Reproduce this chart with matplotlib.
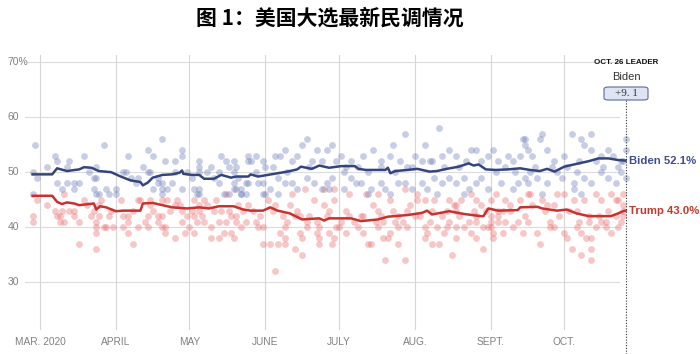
import matplotlib
matplotlib.use("Agg")
import matplotlib.pyplot as plt
from matplotlib.patches import FancyBboxPatch

plt.rcParams['font.family'] = ['Liberation Sans', 'DejaVu Sans']

# x values are days since 1 March 2020
month_days = [0, 31, 61, 92, 122, 153, 184, 214]
month_labels = ['MAR. 2020', 'APRIL', 'MAY', 'JUNE', 'JULY', 'AUG.', 'SEPT.', 'OCT.']
y_ticks = [30, 40, 50, 60, 70]
y_labels = ['30', '40', '50', '60', '70%']
leader_day = 239

# polling averages (day, pct)
biden_avg = [(-3, 49.6), (5, 49.6), (7, 50.7), (11, 50.2), (16, 50.5), (18, 50.9), (21, 50.8),
             (24, 50.2), (29, 50.0), (33, 49.2), (37, 48.5), (41, 48.2), (42, 47.6), (44, 48.1),
             (46, 49.0), (50, 49.5), (54, 49.6), (57, 49.9), (58, 50.3), (58.5, 49.7), (62, 49.5),
             (65, 49.5), (67, 48.8), (71, 48.8), (74, 49.5), (78, 49.0), (80, 49.2), (85, 49.2),
             (86, 49.6), (89, 49.2), (93, 49.5), (97, 49.8), (101, 50.1), (105, 50.5), (106.5, 51.0),
             (111, 50.6), (114, 51.2), (118, 50.8), (123, 51.1), (128.5, 51.1), (130, 50.6),
             (133, 50.4), (141, 50.4), (142, 50.8), (143, 49.8), (145, 50.2), (150, 50.4),
             (154, 50.6), (159, 50.1), (162, 50.2), (166, 50.6), (171, 51.0), (175, 51.6),
             (177, 51.2), (179, 51.4), (182, 50.5), (186, 50.4), (191, 50.5), (196, 50.7),
             (200, 50.4), (204, 50.2), (207, 50.6), (210, 50.1), (214, 51.0), (218, 51.4),
             (224, 52.0), (228, 52.5), (232, 52.5), (236, 52.2), (239, 52.1)]
trump_avg = [(-3, 45.7), (5, 45.7), (7, 44.6), (9, 44.2), (11, 44.5), (14, 44.3), (16, 44.0),
             (20, 44.2), (22, 44.3), (23, 43.2), (24.5, 43.8), (27, 43.6), (31, 42.9), (34, 43.0),
             (41, 43.0), (42, 44.3), (46, 44.4), (48, 44.2), (52, 43.8), (54, 43.6), (60, 43.4),
             (65, 43.6), (69, 43.4), (73, 43.8), (79, 43.8), (83, 43.2), (86, 43.0), (91, 43.0),
             (94, 43.6), (97, 43.0), (102, 42.5), (107, 41.4), (114, 41.6), (116, 41.2),
             (118, 41.6), (127, 41.6), (131, 41.1), (138, 41.4), (142, 41.9), (150, 42.2),
             (156, 42.6), (158, 43.0), (160, 42.3), (167, 42.9), (173, 42.4), (180, 42.0),
             (181, 42.0), (183, 43.4), (187, 43.0), (195, 43.1), (196, 43.6), (203, 43.7),
             (205, 43.4), (211, 43.0), (215, 43.2), (219, 42.5), (224, 42.0), (233, 42.0),
             (236, 42.5), (238, 42.9), (239, 43.0)]

# individual polls (day, pct)
biden_polls = [(-2, 55), (-3, 50), (-1, 49), (-3, 46), (6, 53), (7, 52), (12, 52), (18, 53), (26, 55),
               (23, 51), (11, 51), (22, 49), (23, 49), (7, 48), (11, 48), (14, 48), (16, 48), (9, 47),
               (14, 47), (22, 47), (23, 46), (24, 46), (27, 47), (31, 47), (28, 46), (31, 46), (34, 50),
               (35, 50), (36, 53), (37, 49), (40, 49), (39, 48), (44, 54), (46, 53), (50, 56), (51, 52),
               (55, 52), (58, 54), (58, 53), (44, 50), (45, 50), (48, 49), (48, 48), (50, 48), (46, 47),
               (50, 47), (52, 47), (50, 46), (54, 48), (58, 47), (55, 50), (62, 49), (65, 51), (65, 52),
               (65, 50), (63, 47), (65, 47), (65, 46), (64, 46), (70, 51), (74, 53), (76, 52), (79, 52),
               (80, 51), (73, 50), (71, 49), (73, 48), (79, 48), (80, 47), (82, 47), (75, 46), (77, 46),
               (82, 46), (84, 46), (85, 53), (85, 52), (84, 48),
               (88, 53), (86, 52), (91, 52), (92, 51), (96, 53), (98, 53), (100, 54), (103, 52),
               (105, 53), (107, 55), (109, 56), (111, 52), (113, 54), (117, 54), (115, 52), (77, 51),
               (79, 50), (81, 49), (85, 48), (89, 48), (91, 48), (94, 47), (92, 46), (91, 46), (97, 49),
               (100, 48), (103, 48), (105, 47), (109, 49), (112, 48), (115, 47), (117, 48), (79, 47),
               (82, 46), (97, 46),
               (119, 55), (123, 53), (121, 52), (127, 52), (130, 51), (132, 53), (136, 54), (139, 51),
               (139, 52), (144, 55), (143, 53), (147, 52), (149, 57), (152, 51), (153, 53), (156, 52),
               (157, 55), (159, 52), (119, 49), (124, 50), (127, 49), (129, 48), (131, 48), (135, 47),
               (139, 48), (141, 47), (143, 46), (146, 48), (149, 48), (152, 47), (156, 48), (158, 47),
               (124, 47), (118, 47), (134, 46),
               (163, 58), (167, 54), (164, 53), (170, 53), (174, 52), (176, 54), (178, 54), (183, 53),
               (185, 54), (187, 52), (191, 53), (193, 52), (196, 53), (198, 56), (199, 54), (160, 52),
               (161, 49), (164, 48), (167, 49), (170, 48), (173, 49), (175, 47), (178, 48), (180, 49),
               (183, 47), (188, 48), (193, 47), (195, 48), (198, 49), (199, 48), (162, 46), (173, 46),
               (205, 57), (204, 56), (207, 54), (201, 53), (210, 52), (214, 53), (217, 57), (221, 56),
               (222, 55), (225, 57), (225, 54), (229, 53), (232, 54), (237, 52), (239, 54), (239, 56),
               (200, 50), (203, 49), (207, 48), (211, 50), (213, 49), (218, 48), (219, 50), (218, 47),
               (222, 49), (225, 48), (229, 50), (232, 49), (235, 48), (237, 50), (239, 49), (205, 46),
               (221, 46), (197, 56), (198, 55),
               (3, 51), (20, 50), (42, 51), (60, 50), (68, 50), (88, 50), (95, 51), (101, 50), (110, 51),
               (125, 51), (134, 50), (145, 50), (150, 51), (165, 51), (171, 51), (180, 52), (186, 50),
               (190, 51), (194, 50), (202, 51), (209, 51), (215, 51), (220, 52), (227, 52), (230, 51),
               (234, 53), (236, 51), (238, 52)]
trump_polls = [(-3, 42), (-3, 41), (-1, 45), (6, 43), (7, 42), (8, 41), (8, 42), (9, 43), (10, 41),
               (10, 46), (12, 43), (14, 43), (14, 42), (16, 41), (18, 45), (16, 37), (22, 43), (21, 42),
               (24, 42), (23, 41), (23, 40), (23, 39), (23, 36), (24, 44), (25, 45), (26, 40), (27, 40),
               (28, 42), (30, 40), (33, 45), (34, 42), (36, 42), (38, 43), (36, 41), (34, 40), (36, 39),
               (38, 37), (41, 45), (40, 40), (44, 42), (46, 43), (44, 40), (43, 41), (48, 42), (50, 42),
               (50, 40), (51, 40), (51, 39), (48, 41), (52, 45), (55, 44), (58, 43), (58, 41), (55, 38),
               (59, 39), (61, 40), (63, 39), (60, 42), (63, 42), (65, 43), (65, 44), (66, 42), (67, 41),
               (64, 41), (70, 40), (70, 38), (73, 38), (71, 43), (73, 41), (74, 43), (76, 41), (75, 39),
               (78, 39), (79, 38), (78, 42), (80, 42), (80, 41), (82, 40), (84, 41), (83, 43), (85, 44),
               (87, 43), (88, 41), (89, 40), (91, 40), (91, 37), (94, 37), (97, 37), (100, 37), (100, 38),
               (98, 39), (100, 40), (99, 42), (101, 41), (96, 32), (96, 44), (102, 44), (105, 43),
               (106, 42), (104, 36), (107, 35), (107, 38), (106, 39), (109, 40), (109, 41), (113, 41),
               (114, 40), (113, 39), (114, 38), (114, 37), (119, 37), (120, 38), (118, 39), (121, 40),
               (122, 40), (116, 44), (120, 45), (118, 43), (125, 43), (126, 42), (125, 39), (130, 40),
               (132, 42), (134, 37), (135, 37), (132, 39), (136, 44), (138, 43), (139, 42), (138, 40),
               (140, 38), (142, 38), (141, 34), (140, 41), (143, 39), (144, 43), (146, 37), (146, 40),
               (146, 42), (149, 34), (148, 41), (150, 40), (151, 44), (154, 45), (155, 42), (157, 40),
               (157, 38), (158, 39), (159, 41), (160, 37), (162, 40), (164, 42), (163, 37), (165, 39),
               (166, 40), (167, 41), (168, 35), (169, 44), (170, 43), (173, 40), (176, 39), (175, 41),
               (178, 38), (178, 42), (181, 40), (181, 36), (184, 41), (184, 40), (185, 39), (187, 42),
               (187, 43), (170, 40), (170, 38), (178, 41), (183, 40), (184, 42), (185, 38), (187, 41),
               (189, 39), (190, 41), (193, 40), (195, 41), (197, 39), (198, 42), (199, 41), (203, 39),
               (204, 37), (208, 40), (208, 41), (210, 40), (212, 42), (214, 39), (215, 38), (217, 36),
               (219, 40), (220, 41), (221, 39), (221, 35), (223, 38), (225, 38), (225, 36), (225, 34),
               (224, 41), (227, 40), (229, 41), (231, 41), (231, 40), (233, 39), (235, 42), (236, 40),
               (238, 43), (238, 42), (238, 44), (236, 45), (238, 46),
               (161, 45), (167, 45), (170, 44), (172, 45), (176, 46), (178, 45), (180, 44), (184, 45),
               (186, 46), (190, 45), (192, 44), (196, 45), (199, 46), (200, 46), (205, 45), (207, 44),
               (211, 46), (214, 46), (218, 45), (222, 45), (227, 46), (229, 45), (233, 46), (235, 45),
               (120, 47), (126, 46), (133, 46), (138, 46), (143, 45), (149, 47), (154, 46), (157, 45),
               (93, 45), (103, 46), (108, 47), (112, 45), (116, 47), (40, 45), (45, 45), (50, 45),
               (56, 45), (63, 45), (67, 45), (72, 45), (76, 46),
               (3, 44), (19, 44), (29, 43), (45, 44), (53, 43), (57, 44), (62, 43), (68, 44), (77, 43),
               (81, 44), (90, 42), (95, 43), (104, 42), (110, 42), (117, 42), (123, 41), (128, 41),
               (131, 42), (137, 41), (145, 41), (150, 43), (153, 42), (160, 43), (166, 43), (171, 42),
               (177, 43), (182, 43), (189, 43), (192, 43), (201, 44), (206, 43), (210, 44), (216, 43),
               (219, 43), (224, 42), (228, 42), (232, 43), (237, 41)]

biden_final = 52.1
trump_final = 43.0
margin_text = '+9. 1'

BLUE = '#34457e'
RED = '#c8312d'

fig = plt.figure(figsize=(7, 3.54), dpi=100)
ax = fig.add_axes([25 / 700, 24 / 354, 603 / 700, 275 / 354])
ax.set_xlim(-6.1, 240)
ax.set_ylim(21.3, 71.3)
ax.axis('off')

# grid
for v in y_ticks:
    ax.plot([-6.1, 236.5], [v, v], color='#dcdcdc', lw=0.8, zorder=0)
for d in month_days:
    ax.axvline(d, color='#d6d6d6', lw=0.8, zorder=0)

for v, lab in zip(y_ticks, y_labels):
    ax.text(-13.2, v, lab, ha='left', va='center', fontsize=7.5, color='#808080')
for d, lab in zip(month_days, month_labels):
    ax.text(d, 20.0, lab, ha='center', va='top', fontsize=7.3, color='#808080')

# polls
bx, by = zip(*biden_polls)
tx, ty = zip(*trump_polls)
ax.scatter(tx, ty, s=24, color='#eb6464', alpha=0.36, lw=0, zorder=2, clip_on=False)
ax.scatter(bx, by, s=24, color='#6e7db9', alpha=0.38, lw=0, zorder=2, clip_on=False)

# averages
ax.plot(*zip(*trump_avg), color=RED, lw=1.8, zorder=4, clip_on=False)
ax.plot(*zip(*biden_avg), color=BLUE, lw=1.8, zorder=4, clip_on=False)

ax.text(leader_day + 1.3, biden_final, 'Biden %.1f%%' % biden_final, color='#3f4f8c',
        fontsize=8.2, fontweight='bold', ha='left', va='center')
ax.text(leader_day + 1.3, trump_final, 'Trump %.1f%%' % trump_final, color='#c0392b',
        fontsize=8.2, fontweight='bold', ha='left', va='center')

# leader marker
ax.axvline(leader_day, ymin=-0.087, ymax=0.836, color='#333333', lw=0.8,
           linestyle=(0, (1, 1.5)), clip_on=False, zorder=5)
fig.text(626 / 700, 1 - 63 / 354, 'OCT. 26 LEADER', ha='center', va='center',
         fontsize=5.8, fontweight='bold', color='#111111')
fig.text(626 / 700, 1 - 77 / 354, 'Biden', ha='center', va='center', fontsize=8, color='#333333')
box = FancyBboxPatch((604 / 700, 1 - 100 / 354), 44 / 700, 13 / 354,
                     boxstyle='round,pad=0,rounding_size=0.006', transform=fig.transFigure,
                     facecolor='#dfe4f2', edgecolor='#5b6a9c', lw=0.8)
fig.patches.append(box)
fig.text(626 / 700, 1 - 93 / 354, margin_text, ha='center', va='center', fontsize=8,
         color='#333333', family=['Liberation Serif', 'DejaVu Serif'])

fig.text(330 / 700, 1 - 18 / 354, '图 1：美国大选最新民调情况', ha='center', va='center',
         fontsize=15, fontweight='bold', family=['Noto Sans CJK SC', 'DejaVu Sans'])

fig.savefig('out.png', dpi=100)
